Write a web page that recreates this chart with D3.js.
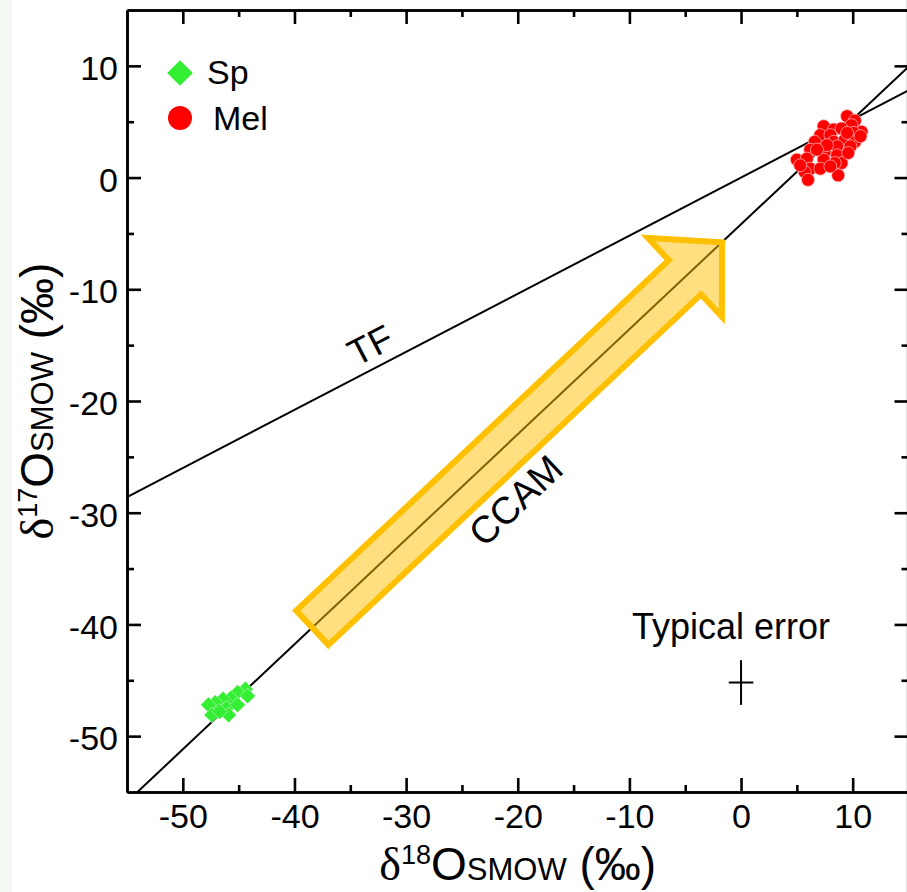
<!DOCTYPE html>
<html>
<head>
<meta charset="utf-8">
<script src="https://cdn.jsdelivr.net/npm/d3@7"></script>
<style>
  body { margin: 0; background: #fff; }
  svg { display: block; font-family: "Liberation Sans", Arial, sans-serif; }
</style>
</head>
<body>
<div id="chart"></div>
<script>
// axis ranges and ticks
var xDomain = [-55, 15];
var yDomain = [-55, 15];
var majorTicks = [-50, -40, -30, -20, -10, 0, 10];
var minorTicks = [-45, -35, -25, -15, -5, 5];

// reference lines: [slope, intercept]
var tfLine = [0.52, 0];
var ccamLine = [0.94, -4.18];

// spinel (Sp) and melilite (Mel) analyses, [d18O, d17O]
var spPoints = [
  [-44.4, -45.8], [-45.1, -46.1], [-44.2, -46.4], [-45.7, -46.6],
  [-46.4, -46.7], [-47.1, -47.0], [-47.7, -47.2], [-46.1, -47.5],
  [-45.1, -47.2], [-47.4, -48.1], [-45.9, -48.1], [-46.7, -47.8]
];
var melPoints = [
  [9.5, 5.5], [10.2, 5.1], [7.4, 4.6], [8.3, 4.3], [9.9, 4.7], [9.0, 4.4],
  [10.8, 4.1], [7.1, 3.8], [8.0, 3.8], [10.1, 4.0], [6.6, 3.2], [8.3, 3.2],
  [9.3, 3.4], [10.2, 3.2], [6.2, 2.5], [7.5, 2.3], [8.6, 2.8], [9.8, 2.8],
  [5.0, 1.6], [5.9, 1.7], [7.4, 1.6], [8.6, 2.0], [9.0, 1.3], [6.2, 0.8],
  [7.1, 0.8], [8.4, 1.3], [5.7, 0.5], [6.0, -0.2], [8.7, 0.2], [7.7, 2.9],
  [6.8, 2.5], [9.5, 4.0], [8.0, 1.0], [5.3, 1.1], [10.7, 3.7], [9.6, 2.2]
];

// arrow along CCAM, [from, to]
var arrowPts = [[-38.4, -40.3], [-1.7, -5.8]];
// typical error: centre and half widths
var errCentre = [0, -45.2];
var errSize = [1.1, 2.0];

// text label anchors in data units
var tfLabel = [-33.2, -15.0];
var ccamLabel = [-20.2, -28.9];
var errLabel = [-0.9, -41.3];

var W = 907, H = 892;
var pL = 127, pR = 908.5, pT = 10, pB = 792;

var svg = d3.select("#chart").append("svg")
    .attr("width", W)
    .attr("height", H);

svg.append("rect").attr("width", W).attr("height", H).attr("fill", "#fff");
svg.append("rect").attr("width", 12).attr("height", H).attr("fill", "#f4f7f2");
svg.append("rect").attr("x", 906).attr("width", 1).attr("height", H).attr("fill", "#e2e2e2");

var x = d3.scaleLinear().domain(xDomain).range([pL, pR]);
var y = d3.scaleLinear().domain(yDomain).range([pB, pT]);

svg.append("clipPath").attr("id", "plot")
  .append("rect")
    .attr("x", pL).attr("y", pT)
    .attr("width", pR - pL).attr("height", pB - pT);

var g = svg.append("g").attr("clip-path", "url(#plot)");

// lines
[tfLine, ccamLine].forEach(function(l) {
    g.append("line")
        .attr("x1", x(xDomain[0])).attr("y1", y(l[0] * xDomain[0] + l[1]))
        .attr("x2", x(xDomain[1])).attr("y2", y(l[0] * xDomain[1] + l[1]))
        .attr("stroke", "#000")
        .attr("stroke-width", 2);
});

// arrow
var p0 = [x(arrowPts[0][0]), y(arrowPts[0][1])];
var p1 = [x(arrowPts[1][0]), y(arrowPts[1][1])];
var dx = p1[0] - p0[0], dy = p1[1] - p0[1];
var len = Math.sqrt(dx * dx + dy * dy);
var u = [dx / len, dy / len], n = [-u[1], u[0]];
var w1 = 23.5, w2 = 54, hl = 51;
var hb = [p1[0] - u[0] * hl, p1[1] - u[1] * hl];
function off(p, k) { return [p[0] + n[0] * k, p[1] + n[1] * k]; }
var arrow = [off(p0, w1), off(hb, w1), off(hb, w2), p1, off(hb, -w2), off(hb, -w1), off(p0, -w1)];
g.append("path")
    .attr("d", d3.line()(arrow) + "Z")
    .attr("fill", "#ffc000")
    .attr("fill-opacity", 0.5)
    .attr("stroke", "#ffc000")
    .attr("stroke-width", 6)
    .attr("stroke-linejoin", "miter");

// points
var diamond = d3.symbol().type(d3.symbolSquare).size(125);
g.selectAll(".sp").data(spPoints).enter().append("path")
    .attr("class", "sp")
    .attr("d", diamond)
    .attr("transform", function(d) { return "translate(" + x(d[0]) + "," + y(d[1]) + ") rotate(45)"; })
    .attr("fill", "#33ee33")
    .attr("stroke", "#fff")
    .attr("stroke-opacity", 0.6)
    .attr("stroke-width", 0.7);

g.selectAll(".mel").data(melPoints).enter().append("circle")
    .attr("class", "mel")
    .attr("cx", function(d) { return x(d[0]); })
    .attr("cy", function(d) { return y(d[1]); })
    .attr("r", 6.5)
    .attr("fill", "#ff0000")
    .attr("stroke", "#ffb3b3")
    .attr("stroke-width", 0.8);

// typical error cross
g.append("line")
    .attr("x1", x(errCentre[0] - errSize[0])).attr("x2", x(errCentre[0] + errSize[0]))
    .attr("y1", y(errCentre[1])).attr("y2", y(errCentre[1]))
    .attr("stroke", "#000").attr("stroke-width", 2);
g.append("line")
    .attr("x1", x(errCentre[0])).attr("x2", x(errCentre[0]))
    .attr("y1", y(errCentre[1] - errSize[1])).attr("y2", y(errCentre[1] + errSize[1]))
    .attr("stroke", "#000").attr("stroke-width", 2);

// labels
function angle(l) {
    var sx = (pR - pL) / (xDomain[1] - xDomain[0]), sy = (pB - pT) / (yDomain[1] - yDomain[0]);
    return -Math.atan(l[0] * sy / sx) * 180 / Math.PI;
}
svg.append("text")
    .attr("transform", "translate(" + x(tfLabel[0]) + "," + y(tfLabel[1]) + ") rotate(" + angle(tfLine) + ")")
    .attr("text-anchor", "middle").attr("dy", "0.35em")
    .attr("font-size", 37).text("TF");
svg.append("text")
    .attr("transform", "translate(" + x(ccamLabel[0]) + "," + y(ccamLabel[1]) + ") rotate(" + angle(ccamLine) + ")")
    .attr("text-anchor", "middle").attr("dy", "0.35em")
    .attr("font-size", 38).text("CCAM");
svg.append("text")
    .attr("x", x(errLabel[0])).attr("y", y(errLabel[1]))
    .attr("text-anchor", "middle")
    .attr("font-size", 36).text("Typical error");

// axes
var fmt = function(d) { return String(d); };
function styleAxis(sel) {
    sel.select(".domain").attr("stroke-width", 2.6);
    sel.selectAll(".tick line").attr("stroke-width", 2.6);
    sel.selectAll("text").attr("font-size", 34).attr("font-family", "Liberation Sans, Arial, sans-serif").attr("fill", "#000");
}
svg.append("g").attr("transform", "translate(0," + pB + ")")
    .call(d3.axisBottom(x).tickValues(majorTicks).tickSize(-14).tickSizeOuter(0).tickPadding(12).tickFormat(fmt))
    .call(styleAxis);
svg.append("g").attr("transform", "translate(0," + pB + ")")
    .call(d3.axisBottom(x).tickValues(minorTicks).tickSize(-7).tickSizeOuter(0).tickFormat(""))
    .call(styleAxis);
svg.append("g").attr("transform", "translate(0," + pT + ")")
    .call(d3.axisTop(x).tickValues(majorTicks).tickSize(-14).tickSizeOuter(0).tickFormat(""))
    .call(styleAxis);
svg.append("g").attr("transform", "translate(0," + pT + ")")
    .call(d3.axisTop(x).tickValues(minorTicks).tickSize(-7).tickSizeOuter(0).tickFormat(""))
    .call(styleAxis);
var yl = svg.append("g").attr("transform", "translate(" + pL + ",0)")
    .call(d3.axisLeft(y).tickValues(majorTicks).tickSize(-14).tickSizeOuter(0).tickPadding(9).tickFormat(fmt))
    .call(styleAxis);
yl.selectAll("text").attr("dy", "0.4em");
svg.append("g").attr("transform", "translate(" + pL + ",0)")
    .call(d3.axisLeft(y).tickValues(minorTicks).tickSize(-7).tickSizeOuter(0).tickFormat(""))
    .call(styleAxis);
svg.append("g").attr("transform", "translate(" + pR + ",0)")
    .call(d3.axisRight(y).tickValues(majorTicks).tickSize(-14).tickSizeOuter(0).tickFormat(""))
    .call(styleAxis);
svg.append("g").attr("transform", "translate(" + pR + ",0)")
    .call(d3.axisRight(y).tickValues(minorTicks).tickSize(-7).tickSizeOuter(0).tickFormat(""))
    .call(styleAxis);

// axis titles
function title(sel, sup) {
    sel.append("tspan").attr("font-family", "Liberation Serif, serif").attr("font-size", 46).text("δ");
    sel.append("tspan").attr("font-size", 27).attr("dy", -16).text(sup);
    sel.append("tspan").attr("font-size", 46).attr("dy", 16).text("O");
    sel.append("tspan").attr("font-size", 31).text("SMOW");
    sel.append("tspan").attr("font-size", 46).text(" (‰)");
}
svg.append("text")
    .attr("x", (pL + pR) / 2).attr("y", 880)
    .attr("text-anchor", "middle")
    .call(title, "18");
svg.append("text")
    .attr("transform", "translate(53," + (pT + pB) / 2 + ") rotate(-90)")
    .attr("text-anchor", "middle")
    .call(title, "17");

// legend
var lg = svg.append("g");
lg.append("path")
    .attr("d", d3.symbol().type(d3.symbolSquare).size(330))
    .attr("transform", "translate(180,73) rotate(45)")
    .attr("fill", "#33ee33");
lg.append("circle").attr("cx", 180).attr("cy", 118).attr("r", 12).attr("fill", "#ff0000");
lg.append("text").attr("x", 207).attr("y", 84).attr("font-size", 34).text("Sp");
lg.append("text").attr("x", 213).attr("y", 130).attr("font-size", 34).text("Mel");
</script>
</body>
</html>
